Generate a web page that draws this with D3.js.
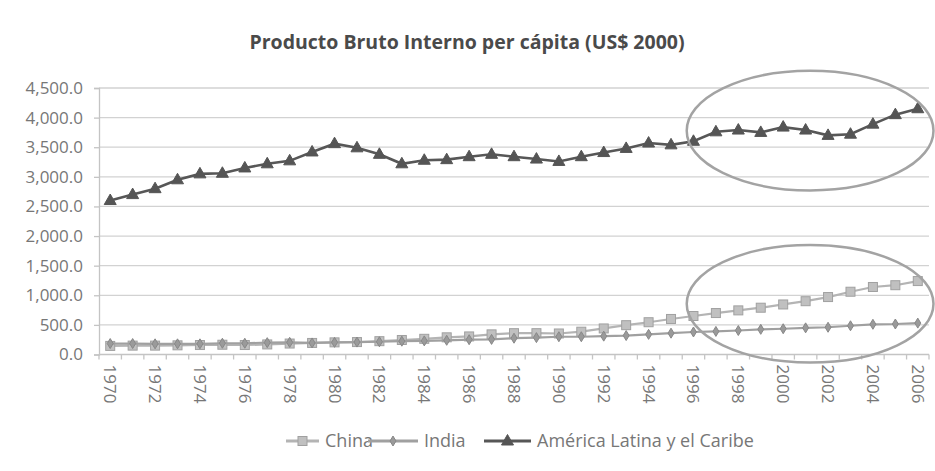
<!DOCTYPE html>
<html>
<head>
<meta charset="utf-8">
<script src="https://cdn.jsdelivr.net/npm/d3@7"></script>
<style>
  body { margin: 0; background: #fff; }
  text { font-family: "Open Sans", "Noto Sans", sans-serif; }
</style>
</head>
<body>
<div id="chart"></div>
<script>

// data
var years = d3.range(1970, 2007);
var yTicks = [0, 500, 1000, 1500, 2000, 2500, 3000, 3500, 4000, 4500];

var china = [145, 150, 150, 155, 160, 165, 160, 170, 185, 195, 205, 210, 225, 245, 265, 290,
  305, 340, 360, 360, 355, 385, 440, 495, 545, 600, 650, 700, 745, 790, 845, 900,
  970, 1060, 1140, 1170, 1240];
var india = [185, 185, 180, 180, 180, 190, 190, 200, 205, 195, 205, 210, 215, 225, 230, 240,
  250, 255, 275, 285, 300, 300, 310, 320, 340, 360, 380, 390, 405, 425, 435, 450,
  460, 485, 510, 515, 530];
var latam = [2600, 2700, 2800, 2950, 3050, 3060, 3150, 3220, 3270, 3420, 3560, 3490, 3380, 3220,
  3280, 3290, 3340, 3380, 3340, 3300, 3260, 3340, 3410, 3480, 3570, 3540, 3600, 3760,
  3790, 3750, 3840, 3790, 3700, 3720, 3890, 4050, 4150];

var seriesNames = ["China", "India", "América Latina y el Caribe"];

// the two circled regions (years, value range)
var circles = [
  {from: 1995.7, to: 2006.7, lo: 2770, hi: 4790},
  {from: 1995.7, to: 2006.7, lo: -135, hi: 1850}
];

var W = 935, H = 471;
var margin = {top: 88, right: 6, bottom: 116, left: 99};

var svg = d3.select("#chart").append("svg")
  .attr("width", W)
  .attr("height", H);

var x = d3.scaleBand()
  .domain(years)
  .range([margin.left, W - margin.right])
  .padding(0);

var y = d3.scaleLinear()
  .domain([0, 4500])
  .range([H - margin.bottom - 0.5, margin.top]);

// position of a (fractional) year along the category axis
function xYear(yr) {
  return x(years[0]) + (yr - years[0]) * x.bandwidth() + x.bandwidth() / 2;
}

// title
svg.append("text")
  .attr("x", 467)
  .attr("y", 49)
  .attr("text-anchor", "middle")
  .attr("font-size", 19.5)
  .attr("font-weight", "bold")
  .attr("fill", "#4a4a4a")
  .text("Producto Bruto Interno per cápita (US$ 2000)");

// gridlines
svg.append("g")
  .selectAll("line")
  .data(yTicks.slice(1))
  .enter().append("line")
  .attr("x1", margin.left)
  .attr("x2", W - margin.right)
  .attr("y1", function(d) { return y(d); })
  .attr("y2", function(d) { return y(d); })
  .attr("stroke", "#d2d2d2")
  .attr("stroke-width", 1.3);

// y axis
var yAxis = d3.axisLeft(y)
  .tickValues(yTicks)
  .tickSize(5)
  .tickPadding(11)
  .tickFormat(d3.format(",.1f"));

var gy = svg.append("g")
  .attr("transform", "translate(" + margin.left + ",0)")
  .call(yAxis);
gy.select(".domain").attr("stroke", "#c4c4c4").attr("stroke-width", 1.3);
gy.selectAll(".tick line").attr("stroke", "#c4c4c4").attr("stroke-width", 1.3);
gy.selectAll(".tick text")
  .attr("font-size", 17)
  .attr("fill", "#777")
  .attr("font-family", "Open Sans, sans-serif");

// x axis, ticks at category boundaries
var baseY = y(0);
svg.append("line")
  .attr("x1", margin.left).attr("x2", W - margin.right)
  .attr("y1", baseY).attr("y2", baseY)
  .attr("stroke", "#c4c4c4").attr("stroke-width", 1.3);

svg.append("g")
  .selectAll("line")
  .data(years.concat([2007]))
  .enter().append("line")
  .attr("x1", function(d) { return d === 2007 ? W - margin.right : x(d); })
  .attr("x2", function(d) { return d === 2007 ? W - margin.right : x(d); })
  .attr("y1", baseY)
  .attr("y2", baseY + 5)
  .attr("stroke", "#c4c4c4")
  .attr("stroke-width", 1.3);

svg.append("g")
  .selectAll("text")
  .data(years.filter(function(d) { return d % 2 === 0; }))
  .enter().append("text")
  .attr("transform", function(d) {
    return "translate(" + (x(d) + x.bandwidth() / 2 - 6) + "," + (baseY + 10) + ") rotate(90)";
  })
  .attr("font-size", 17)
  .attr("fill", "#777")
  .text(function(d) { return d; });

// series
var cx = function(i) { return x(years[i]) + x.bandwidth() / 2; };

var styles = [
  {data: china, line: "#b4b4b4", fill: "#c0c0c0", stroke: "#a0a0a0", mark: "square", width: 2.2},
  {data: india, line: "#a0a0a0", fill: "#9a9a9a", stroke: "#888", mark: "diamond", width: 2.2},
  {data: latam, line: "#575757", fill: "#555", stroke: "#555", mark: "triangle", width: 2.6}
];

function marker(g, kind, fill, stroke) {
  if (kind === "square") {
    g.append("rect").attr("x", -4.5).attr("y", -4.5).attr("width", 9).attr("height", 9)
      .attr("fill", fill).attr("stroke", stroke).attr("stroke-width", 1);
  } else if (kind === "diamond") {
    g.append("path").attr("d", "M0,-5L3,0L0,5L-3,0Z")
      .attr("fill", fill).attr("stroke", stroke).attr("stroke-width", 1);
  } else {
    g.append("path").attr("d", "M0,-6.5L6,4L-6,4Z")
      .attr("fill", fill).attr("stroke", stroke).attr("stroke-width", 1);
  }
}

var line = d3.line()
  .x(function(d, i) { return cx(i); })
  .y(function(d) { return y(d); });

styles.forEach(function(s) {
  svg.append("path")
    .datum(s.data)
    .attr("d", line)
    .attr("fill", "none")
    .attr("stroke", s.line)
    .attr("stroke-width", s.width);

  svg.append("g")
    .selectAll("g")
    .data(s.data)
    .enter().append("g")
    .attr("transform", function(d, i) { return "translate(" + cx(i) + "," + y(d) + ")"; })
    .each(function() { marker(d3.select(this), s.mark, s.fill, s.stroke); });
});

// circled regions
circles.forEach(function(c) {
  var x0 = xYear(c.from), x1 = xYear(c.to);
  svg.append("ellipse")
    .attr("cx", (x0 + x1) / 2)
    .attr("cy", (y(c.lo) + y(c.hi)) / 2)
    .attr("rx", (x1 - x0) / 2)
    .attr("ry", (y(c.lo) - y(c.hi)) / 2)
    .attr("fill", "none")
    .attr("stroke", "#a3a3a3")
    .attr("stroke-width", 2.5);
});

// legend
var legendPos = [{lx: 286, tx: 325}, {lx: 368, tx: 424}, {lx: 484, tx: 537}];
var lg = svg.append("g");
styles.forEach(function(s, i) {
  var p = legendPos[i];
  var len = p.tx - p.lx - 6;
  lg.append("line")
    .attr("x1", p.lx).attr("x2", p.lx + len)
    .attr("y1", 441).attr("y2", 441)
    .attr("stroke", s.line).attr("stroke-width", s.width + 0.6);
  var m = lg.append("g").attr("transform", "translate(" + (p.lx + len / 2) + ",441)");
  marker(m, s.mark, s.fill, s.stroke);
  lg.append("text")
    .attr("x", p.tx).attr("y", 447)
    .attr("font-size", 18)
    .attr("fill", "#777")
    .text(seriesNames[i]);
});

</script>
</body>
</html>
